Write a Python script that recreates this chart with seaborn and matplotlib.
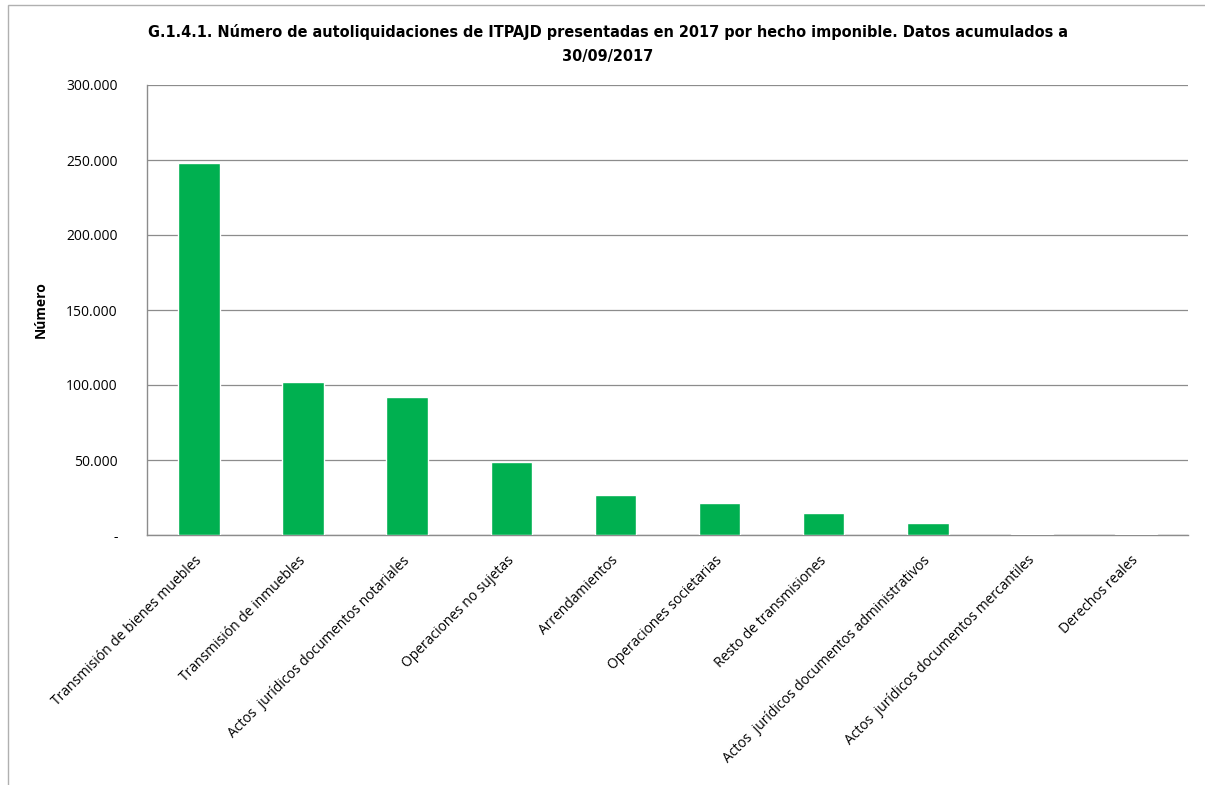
import matplotlib
matplotlib.use("Agg")
import matplotlib.pyplot as plt
import matplotlib.transforms as mtransforms
import seaborn as sns
import pandas as pd
from matplotlib.patches import Rectangle
from matplotlib.ticker import FuncFormatter

categories = [
    "Transmisión de bienes muebles",
    "Transmisión de inmuebles",
    "Actos  jurídicos documentos notariales",
    "Operaciones no sujetas",
    "Arrendamientos",
    "Operaciones societarias",
    "Resto de transmisiones",
    "Actos  jurídicos documentos administrativos",
    "Actos  jurídicos documentos mercantiles",
    "Derechos reales",
]
values = [248000, 102000, 92000, 48500, 27000, 21200, 14700, 8300, 900, 450]
yticks = [0, 50000, 100000, 150000, 200000, 250000, 300000]

title = "G.1.4.1. Número de autoliquidaciones de ITPAJD presentadas en 2017 por hecho imponible. Datos acumulados a\n30/09/2017"

sns.set_theme(style="white")
plt.rcParams['font.family'] = ['Open Sans', 'DejaVu Sans']
plt.rcParams['text.color'] = 'black'
plt.rcParams['axes.labelcolor'] = 'black'
plt.rcParams['xtick.color'] = 'black'
plt.rcParams['ytick.color'] = 'black'

df = pd.DataFrame({"cat": categories, "val": values})

fig = plt.figure(figsize=(12.05, 7.85), dpi=100)
ax = fig.add_axes([147/1205, 1-535/785, (1188-147)/1205, (535-85)/785])

sns.barplot(data=df, x="cat", y="val", color="#00B050", width=0.4, ax=ax, saturation=1, zorder=3)

ax.set_ylim(0, 300000)
ax.set_yticks(yticks)
ax.yaxis.set_major_formatter(FuncFormatter(lambda v, p: "-" if v == 0 else f"{int(v):,}".replace(",", ".")))
ax.yaxis.grid(True, color="#8c8c8c", linewidth=0.9)
ax.set_axisbelow(True)
for s in ["top", "right"]:
    ax.spines[s].set_visible(False)
for s in ["left", "bottom"]:
    ax.spines[s].set_color("#8c8c8c")
    ax.spines[s].set_linewidth(1.0)

ax.tick_params(axis="y", labelsize=10, pad=21, length=0, colors="black")
ax.tick_params(axis="x", labelsize=10, length=0, pad=13, colors="black")
ax.set_xticks(range(len(categories)))
ax.set_xticklabels(categories, rotation=45, ha="right", rotation_mode="anchor")
offset = mtransforms.ScaledTranslation(-5/100, 0, fig.dpi_scale_trans)
for lab in ax.get_xticklabels():
    lab.set_transform(lab.get_transform() + offset)
ax.set_xlabel("")
ax.set_ylabel("Número", fontsize=10, fontweight="bold", labelpad=13, color="black")

fig.text(608/1205, 1-44/785, title, ha="center", va="center", fontsize=11.6,
         fontweight="bold", family=["DejaVu Sans"], fontstretch="condensed", linespacing=1.75,
         color="black")

fig.patches.append(Rectangle((8/1205, -0.01), 1.2, 1-5/785 + 0.01, transform=fig.transFigure,
                             fill=False, edgecolor="#b0b0b0", linewidth=1.0))

fig.savefig("out.png", dpi=100)
